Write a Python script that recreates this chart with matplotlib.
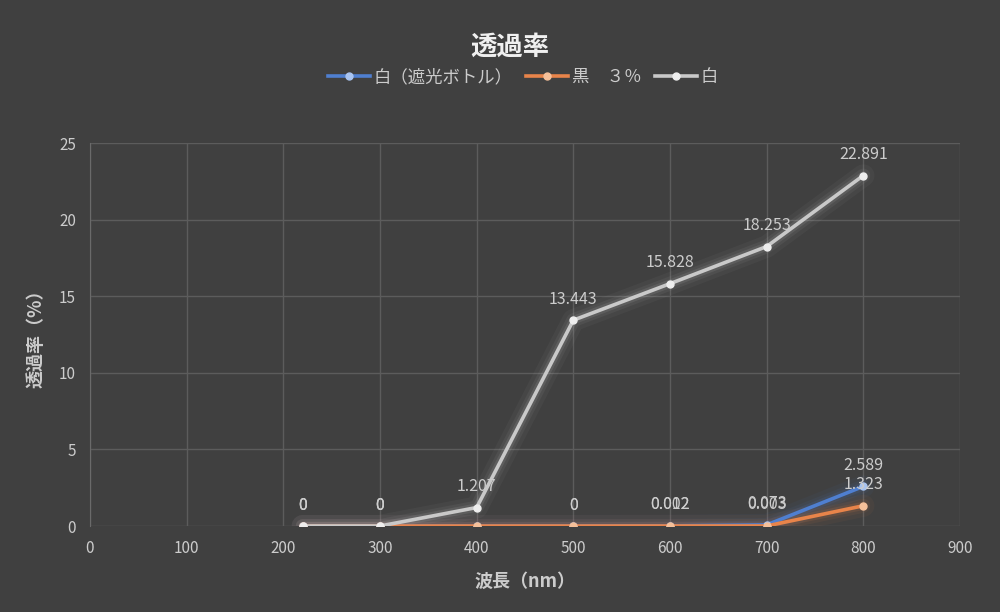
import numpy as np
import matplotlib
matplotlib.use("Agg")
import matplotlib.pyplot as plt

plt.rcParams['font.family'] = ['Noto Sans CJK JP', 'DejaVu Sans']

wavelength = [220, 300, 400, 500, 600, 700, 800]
white_shade = [0, 0, 0, 0, 0.012, 0.073, 2.589]   # 白（遮光ボトル）
black_3 = [0, 0, 0, 0, 0.002, 0.003, 1.323]        # 黒 3%
white = [0, 0, 1.207, 13.443, 15.828, 18.253, 22.891]  # 白

series_names = ['白（遮光ボトル）', '黒\u3000３％', '白']
series_colors = ['#4f7fd0', '#e8844a', '#c9c9c9']
marker_colors = ['#a9c4f0', '#f5c09a', '#eeeeee']

# which points carry a data label (Excel hid some of them)
label_shade = [True, True, False, True, True, True, True]
label_black = [True, True, False, True, True, True, True]
label_white = [True, True, True, True, True, True, True]

bg = '#404040'
txt = '#cccccc'

fig = plt.figure(figsize=(10, 6.12), dpi=100, facecolor=bg)
ax = fig.add_axes([0.09, 0.1405, 0.87, 0.6255])
ax.set_facecolor(bg)

all_series = [white_shade, black_3, white]
all_labels = [label_shade, label_black, label_white]
for vals, col, mcol, name in zip(all_series, series_colors, marker_colors, series_names):
    # soft glow
    for lw, a in [(16, 0.05), (10, 0.07), (6, 0.12)]:
        ax.plot(wavelength, vals, color=col, lw=lw, alpha=a, solid_capstyle='round', zorder=2)
    ax.plot(wavelength, vals, color=col, lw=2.6, marker='o', ms=5,
            mfc=mcol, mec=mcol, label=name, zorder=3)

for vals, show in zip(all_series, all_labels):
    for xv, yv, s in zip(wavelength, vals, show):
        if not s:
            continue
        lab = '0' if yv == 0 else ('%g' % yv)
        ax.annotate(lab, (xv, yv), xytext=(0, 9), textcoords='offset points',
                    ha='center', va='bottom', color=txt, fontsize=11.5, zorder=4)

ax.set_xlim(0, 900)
ax.set_ylim(0, 25)
ax.set_xticks(np.arange(0, 901, 100))
ax.set_yticks(np.arange(0, 26, 5))
ax.grid(True, color='#5c5c5c', lw=1)
ax.set_axisbelow(True)
for side in ['top', 'right', 'bottom']:
    ax.spines[side].set_visible(False)
ax.spines['left'].set_color('#6a6a6a')
ax.tick_params(colors=txt, labelsize=11, length=0, pad=10)

ax.set_xlabel('波長（nm）', color=txt, fontsize=13, fontweight='bold', labelpad=11)
ax.set_ylabel('透過率（%）', color=txt, fontsize=13, fontweight='bold', labelpad=10)

fig.text(0.51, 0.923, '透過率', ha='center', va='center', color='#f0f0f0',
         fontsize=19, fontweight='bold')
leg = fig.legend(loc='center', bbox_to_anchor=(0.523, 0.874), ncol=3, frameon=False,
                 fontsize=12.5, labelcolor=txt, handlelength=2.4, columnspacing=0.8,
                 handletextpad=0.2)

fig.savefig('out.png', dpi=100, facecolor=bg)
